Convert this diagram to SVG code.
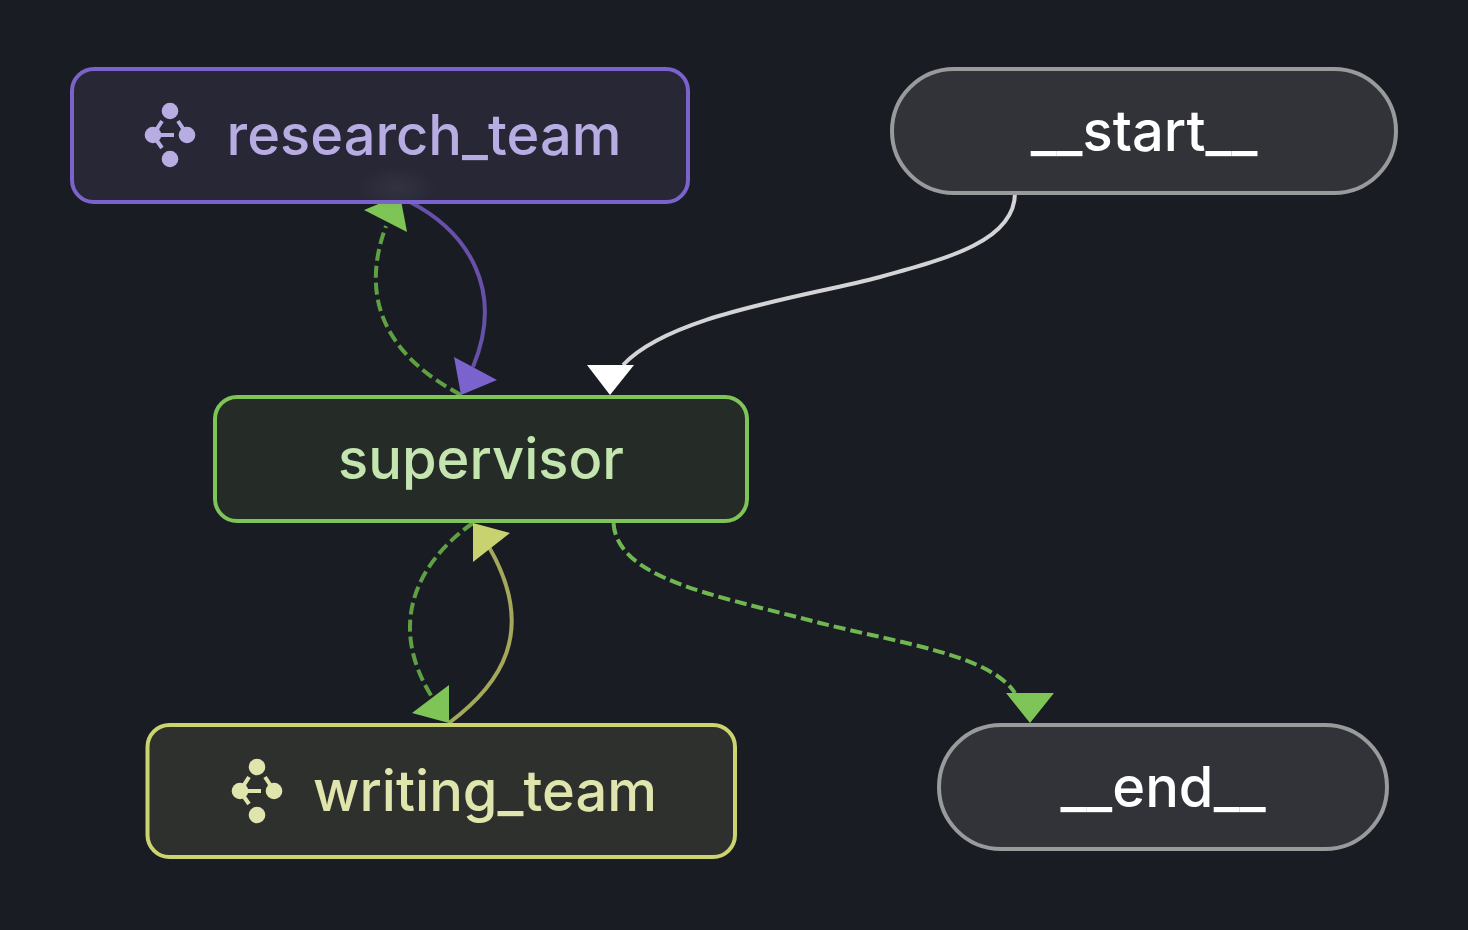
<svg xmlns="http://www.w3.org/2000/svg" width="1468" height="930" viewBox="0 0 1468 930">
<style>
.bg{fill:#191c23}
.n{stroke-width:4}
text{font-family:Inter,"Liberation Sans",sans-serif;font-size:56px;font-weight:500}
.e{fill:none;stroke-width:4}
.d{stroke-dasharray:12 5}
.icon circle{fill:currentColor}
.icon path{stroke:currentColor;stroke-width:4;fill:none}
</style>
<defs>
<radialGradient id="glow"><stop offset="0" stop-color="#5a6070" stop-opacity=".2"/><stop offset="1" stop-color="#5a6070" stop-opacity="0"/></radialGradient>
<g id="ic" class="icon"><circle cx="170" cy="111" r="8.300"/><circle cx="153" cy="135" r="8.300"/><circle cx="187" cy="135" r="8.300"/><circle cx="170" cy="159" r="8.300"/><path d="M162 121L155 132M153 135H174M155 138L162 148M178 121L184 130"/></g>
</defs>
<rect class="bg" width="1468" height="930"/>
<g id="connectors">
<path class="e" stroke="#d4d4d6" d="M1015 193C1015 240 950 258 880 277C800 298 670 315 623 365"/>
<path class="e d" stroke="#70b651" d="M613.500 523C616 562 665 582 727 599C760 608 790 615 820 623C900 643 990 655 1015 693"/>
<path class="e" stroke="#6650aa" d="M410 202C468 232 505 290 473 367"/>
<path class="e d" stroke="#5fa043" d="M461 395C399 362 355 310 386 226"/>
<path class="e d" stroke="#5fa043" d="M473 523C420 560 385 622 432 697"/>
<path class="e" stroke="#a3a85a" d="M449 723C500 685 538 632 489 547"/>
<polygon fill="#fff" points="587,365 634,365 610,395"/>
<polygon fill="#7ec456" points="1006,693 1054,693 1030,723"/>
<polygon fill="#7ec456" points="364,210 407,232 400,195"/>
<polygon fill="#7a63cc" points="454,357 497,380 461,395"/>
<polygon fill="#c8d26e" points="473,523 510,533 473,562"/>
<polygon fill="#7ec456" points="412,713 449,685 449,723"/>
</g>
<g id="research_team">
<rect class="n" x="72" y="69" width="616" height="133" rx="22" fill="#282735" stroke="#7a63cc"/>
<ellipse cx="397" cy="188" rx="40" ry="22" fill="url(#glow)"/>
<path d="M94 202H666" stroke="#7a63cc" stroke-width="4"/>
<use href="#ic" color="#b8ade3"/>
<text x="424" y="155" text-anchor="middle" fill="#b8ade3">research_team</text>
</g>
<g id="__start__">
<rect class="n" x="892" y="69" width="504" height="124" rx="62" fill="#323338" stroke="#999a9c"/>
<text x="1144" y="151" text-anchor="middle" fill="#fff">__start__</text>
</g>
<g id="supervisor">
<rect class="n" x="215" y="397" width="532" height="124" rx="22" fill="#252c27" stroke="#7ec456"/>
<text x="481" y="479" text-anchor="middle" fill="#c5e5b0">supervisor</text>
</g>
<g id="writing_team">
<rect class="n" x="147.500" y="725" width="587.500" height="132" rx="22" fill="#2e302d" stroke="#cbd46f"/>
<use href="#ic" x="87" y="656" color="#e0e5ad"/>
<text x="485" y="811" text-anchor="middle" fill="#e0e5ad">writing_team</text>
</g>
<g id="__end__">
<rect class="n" x="939" y="725" width="448" height="124" rx="62" fill="#323338" stroke="#999a9c"/>
<text x="1163" y="807" text-anchor="middle" fill="#fff">__end__</text>
</g>
</svg>
